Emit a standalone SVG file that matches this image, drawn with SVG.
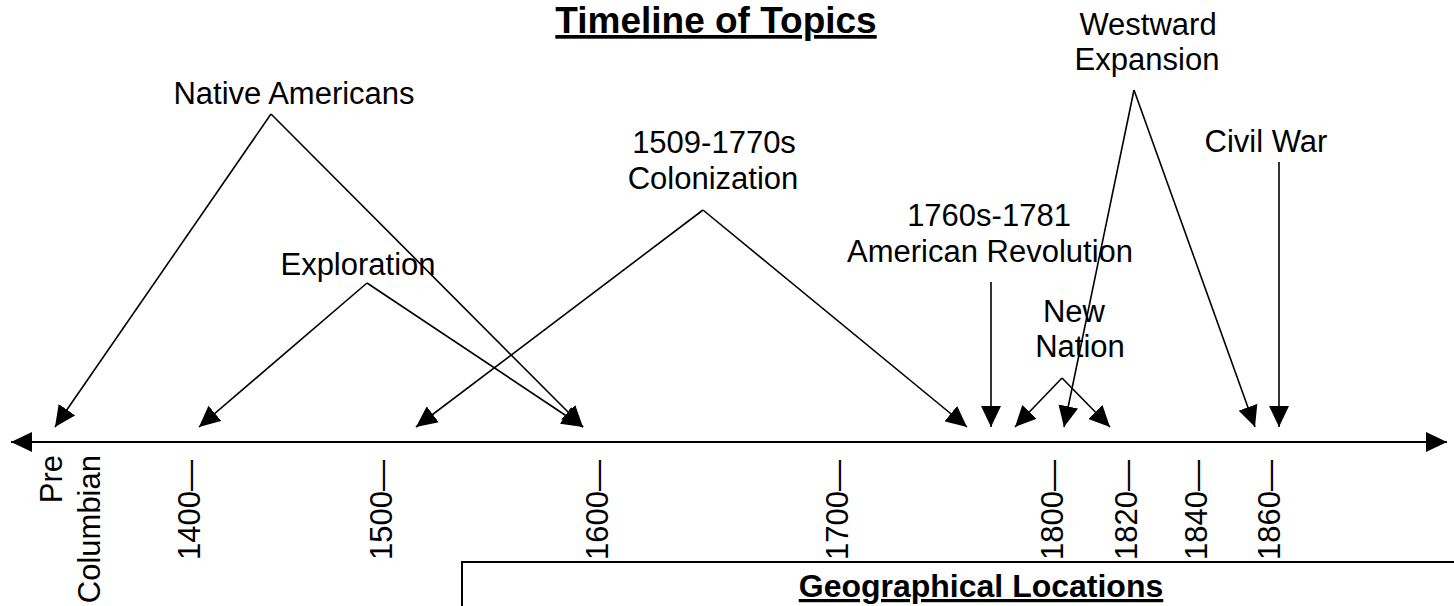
<svg xmlns="http://www.w3.org/2000/svg" width="1454" height="606" viewBox="0 0 1454 606">
<style>
text{font-family:"Liberation Sans",Arial,sans-serif;fill:#000}
.lbl{font-size:31px;text-anchor:middle}
.tick{font-size:31px}
.hd{font-weight:bold;text-decoration:underline;text-anchor:middle}
.con{stroke:#000;stroke-width:1.6;fill:none;marker-end:url(#ah)}
</style>
<defs>
<marker id="ah" markerUnits="userSpaceOnUse" markerWidth="21" markerHeight="20" refX="21" refY="10" orient="auto-start-reverse" viewBox="0 0 21 20">
<path d="M0,0 L21,10 L0,20 z" fill="#000"/>
</marker>
</defs>
<rect width="1454" height="606" fill="#fff"/>
<g id="title"><text class="hd" x="716" y="33" font-size="37">Timeline of Topics</text></g>
<g id="axis">
<line x1="11" y1="442" x2="1447" y2="442" stroke="#000" stroke-width="2" marker-start="url(#ah)" marker-end="url(#ah)"/>
<text class="tick" text-anchor="end" transform="translate(62,455) rotate(-90)">Pre</text>
<text class="tick" text-anchor="end" transform="translate(100,455) rotate(-90)">Columbian</text>
<text class="tick" transform="translate(200,560) rotate(-90)">1400—</text>
<text class="tick" transform="translate(392,560) rotate(-90)">1500—</text>
<text class="tick" transform="translate(608,560) rotate(-90)">1600—</text>
<text class="tick" transform="translate(848,560) rotate(-90)">1700—</text>
<text class="tick" transform="translate(1063,560) rotate(-90)">1800—</text>
<text class="tick" transform="translate(1137,560) rotate(-90)">1820—</text>
<text class="tick" transform="translate(1207,560) rotate(-90)">1840—</text>
<text class="tick" transform="translate(1280,560) rotate(-90)">1860—</text>
</g>
<g id="native"><text class="lbl" x="294" y="104">Native Americans</text></g>
<g id="exploration"><text class="lbl" x="358" y="275">Exploration</text></g>
<g id="colonization"><text class="lbl" x="714" y="153">1509-1770s</text><text class="lbl" x="713" y="189">Colonization</text></g>
<g id="revolution"><text class="lbl" x="989" y="226">1760s-1781</text><text class="lbl" x="990" y="262">American Revolution</text></g>
<g id="newnation"><text class="lbl" x="1074" y="322">New</text><text class="lbl" x="1080" y="357">Nation</text></g>
<g id="westward"><text class="lbl" x="1148" y="35">Westward</text><text class="lbl" x="1147" y="70">Expansion</text></g>
<g id="civilwar"><text class="lbl" x="1266" y="152">Civil War</text></g>
<g id="connectors">
<path class="con" d="M271,114 L55,427"/>
<path class="con" d="M271,114 L583,427"/>
<path class="con" d="M367,283 L199,427"/>
<path class="con" d="M367,283 L583,427"/>
<path class="con" d="M703,210 L416,427"/>
<path class="con" d="M703,210 L967,427"/>
<path class="con" d="M991,282 L991,427"/>
<path class="con" d="M1062,378 L1015,427"/>
<path class="con" d="M1062,378 L1110,427"/>
<path class="con" d="M1134,90 L1064,427"/>
<path class="con" d="M1134,90 L1255,427"/>
<path class="con" d="M1279,162 L1279,427"/>
</g>
<g id="geo">
<rect x="462" y="562" width="1100" height="100" fill="none" stroke="#000" stroke-width="2"/>
<text class="hd" x="981" y="597" font-size="32">Geographical Locations</text>
</g>
</svg>
